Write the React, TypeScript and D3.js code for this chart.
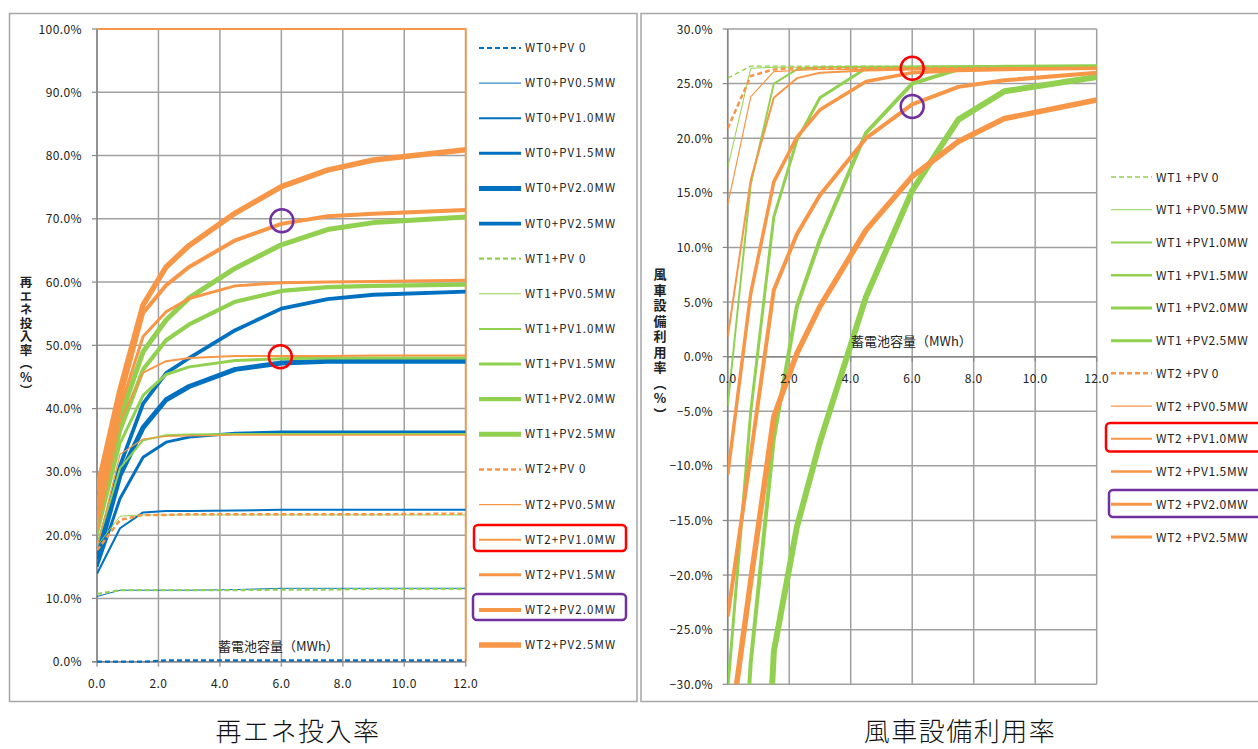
import React from "react";
import * as d3 from "d3";

// ---------- DATA ----------
const batteryMWh = [0, 0.75, 1.5, 2.25, 3, 4.5, 6, 7.5, 9, 12];
const xTicks = [0, 2, 4, 6, 8, 10, 12];

// 再エネ投入率 (%)
const leftNames = [
  "WT0+PV 0", "WT0+PV0.5MW", "WT0+PV1.0MW", "WT0+PV1.5MW", "WT0+PV2.0MW", "WT0+PV2.5MW",
  "WT1+PV 0", "WT1+PV0.5MW", "WT1+PV1.0MW", "WT1+PV1.5MW", "WT1+PV2.0MW", "WT1+PV2.5MW",
  "WT2+PV 0", "WT2+PV0.5MW", "WT2+PV1.0MW", "WT2+PV1.5MW", "WT2+PV2.0MW", "WT2+PV2.5MW",
];
const wt0pv0 = [0, 0, 0, 0.2, 0.2, 0.2, 0.2, 0.2, 0.2, 0.2];
const wt0pv05 = [10.3, 11.3, 11.3, 11.3, 11.3, 11.4, 11.6, 11.6, 11.6, 11.6];
const wt0pv10 = [13.9, 21.1, 23.6, 23.8, 23.8, 23.9, 24.0, 24.0, 24.0, 24.0];
const wt0pv15 = [15.0, 25.8, 32.3, 34.7, 35.5, 36.1, 36.3, 36.3, 36.3, 36.3];
const wt0pv20 = [16.2, 29.5, 37.0, 41.4, 43.5, 46.2, 47.2, 47.5, 47.5, 47.5];
const wt0pv25 = [17.5, 31.0, 40.8, 45.6, 48.0, 52.4, 55.8, 57.3, 58.0, 58.5];
const wt1pv0 = [10.7, 11.3, 11.3, 11.3, 11.3, 11.3, 11.4, 11.4, 11.5, 11.5];
const wt1pv05 = [18.3, 23.0, 23.2, 23.2, 23.2, 23.2, 23.2, 23.2, 23.2, 23.2];
const wt1pv10 = [18.5, 30.6, 35.0, 35.8, 35.9, 36.0, 36.0, 36.0, 36.0, 36.0];
const wt1pv15 = [20.0, 34.5, 42.1, 45.4, 46.6, 47.6, 47.9, 48.0, 48.0, 48.0];
const wt1pv20 = [21.0, 36.5, 46.2, 50.8, 53.3, 56.9, 58.6, 59.2, 59.4, 59.6];
const wt1pv25 = [22.0, 38.5, 49.0, 54.0, 57.5, 62.2, 65.9, 68.3, 69.4, 70.3];
const wt2pv0 = [17.6, 22.4, 23.2, 23.2, 23.3, 23.3, 23.3, 23.3, 23.3, 23.4];
const wt2pv05 = [18.0, 32.8, 35.2, 35.6, 35.7, 35.8, 35.8, 35.8, 35.8, 35.8];
const wt2pv10 = [20.5, 38.0, 45.7, 47.5, 48.0, 48.3, 48.3, 48.3, 48.4, 48.4];
const wt2pv15 = [22.5, 40.0, 51.4, 55.3, 57.4, 59.4, 59.9, 60.0, 60.1, 60.3];
const wt2pv20 = [24.5, 41.5, 55.1, 59.5, 62.4, 66.6, 69.2, 70.4, 70.8, 71.4];
const wt2pv25 = [27.0, 43.0, 56.4, 62.4, 65.8, 70.9, 75.1, 77.7, 79.3, 80.9];
const leftValues = [
  wt0pv0, wt0pv05, wt0pv10, wt0pv15, wt0pv20, wt0pv25,
  wt1pv0, wt1pv05, wt1pv10, wt1pv15, wt1pv20, wt1pv25,
  wt2pv0, wt2pv05, wt2pv10, wt2pv15, wt2pv20, wt2pv25,
];
const leftYTicks = [0, 10, 20, 30, 40, 50, 60, 70, 80, 90, 100];

// 風車設備利用率 (%)
const rightNames = [
  "WT1 +PV 0", "WT1 +PV0.5MW", "WT1 +PV1.0MW", "WT1 +PV1.5MW", "WT1 +PV2.0MW", "WT1 +PV2.5MW",
  "WT2 +PV 0", "WT2 +PV0.5MW", "WT2 +PV1.0MW", "WT2 +PV1.5MW", "WT2 +PV2.0MW", "WT2 +PV2.5MW",
];
const uWt1pv0 = [25.5, 26.6, 26.6, 26.6, 26.6, 26.6, 26.6, 26.6, 26.6, 26.6];
const uWt1pv05 = [17.3, 26.4, 26.5, 26.5, 26.5, 26.6, 26.6, 26.6, 26.6, 26.6];
const uWt1pv10 = [-4.5, 15.8, 25.0, 26.3, 26.5, 26.5, 26.5, 26.6, 26.6, 26.6];
const uWt1pv15 = [-30.5, -5.0, 12.8, 19.8, 23.7, 26.4, 26.5, 26.5, 26.6, 26.6];
const uWt1pv20 = [-110, -70, -27, -15.6, -7.8, 5.5, 15.2, 21.7, 24.3, 25.6];
const uWt1pv25 = [-60, -28, -7.5, 4.6, 10.7, 20.5, 25.0, 26.3, 26.5, 26.6];
const uWt2pv0 = [20.9, 25.7, 26.3, 26.4, 26.4, 26.4, 26.4, 26.4, 26.4, 26.4];
const uWt2pv05 = [13.9, 23.8, 26.1, 26.2, 26.3, 26.3, 26.4, 26.4, 26.4, 26.4];
const uWt2pv10 = [1.8, 16.2, 23.7, 25.5, 26.0, 26.2, 26.3, 26.3, 26.4, 26.4];
const uWt2pv15 = [-10.8, 5.8, 16.0, 20.1, 22.6, 25.2, 26.0, 26.2, 26.3, 26.4];
const uWt2pv20 = [-23.8, -9.0, 6.1, 11.2, 14.8, 20.0, 23.1, 24.7, 25.3, 26.0];
const uWt2pv25 = [-36, -20.5, -5.5, 0.3, 4.6, 11.6, 16.5, 19.7, 21.8, 23.5];
const rightValues = [
  uWt1pv0, uWt1pv05, uWt1pv10, uWt1pv15, uWt1pv20, uWt1pv25,
  uWt2pv0, uWt2pv05, uWt2pv10, uWt2pv15, uWt2pv20, uWt2pv25,
];
const rightYTicks = [-30, -25, -20, -15, -10, -5, 0, 5, 10, 15, 20, 25, 30];

// ---------- STYLES ----------
const BLUE = "#0070C0";
const GREEN = "#92D050";
const ORANGE = "#F79646";
const GRID = "#a0a0a0";
const AXIS = "#868686";
const FONT = "'Noto Sans CJK JP', 'Noto Sans', sans-serif";
const leftWidths = [
  2.2, 1, 2, 3, 5, 3.8,
  2.2, 1, 2, 3, 4.2, 5,
  2.5, 1.2, 2, 3, 4, 5.5,
];
const rightWidths = [
  1.3, 1, 2, 3, 6, 4,
  2.5, 1.2, 2, 3.5, 4, 5.5,
];
const groupColor = (i: number, offset: number) => {
  const g = Math.floor(i / 6) + offset;
  return g === 0 ? BLUE : g === 1 ? GREEN : ORANGE;
};

export default function App() {
  // Left chart scales
  const xL = d3.scaleLinear().domain([0, 12]).range([97, 465.7]);
  const yL = d3.scaleLinear().domain([0, 100]).range([661.7, 29]);
  // Right chart scales
  const xR = d3.scaleLinear().domain([0, 12]).range([727.7, 1096.7]);
  const yR = d3.scaleLinear().domain([-30, 30]).range([684.3, 29]);

  const lineL = d3
    .line<number>()
    .x((_, i) => xL(batteryMWh[i]))
    .y((d) => yL(d));
  const lineR = d3
    .line<number>()
    .x((_, i) => xR(batteryMWh[i]))
    .y((d) => yR(d));

  const legendLeftY = d3.scalePoint<number>().domain(d3.range(18)).range([48, 645]);
  const legendRightY = d3.scalePoint<number>().domain(d3.range(12)).range([177, 537]);

  const fmt = d3.format(".1f");
  const vertical = { writingMode: "vertical-rl", textOrientation: "upright" } as any;

  return (
    <svg
      width={1258}
      height={749}
      style={{ position: "absolute", left: 0, top: 0, background: "#fff" }}
      fontFamily={FONT}
    >
      <defs>
        <clipPath id="clipL">
          <rect x={xL(0)} y={yL(100) - 2} width={xL(12) - xL(0)} height={yL(0) - yL(100) + 4} />
        </clipPath>
        <clipPath id="clipR">
          <rect x={xR(0)} y={yR(30)} width={xR(12) - xR(0)} height={yR(-30) - yR(30)} />
        </clipPath>
      </defs>

      {/* ===== LEFT CHART ===== */}
      <rect x={9.5} y={13.5} width={627.5} height={688} fill="#fff" stroke="#a6a6a6" strokeWidth={1.5} />
      {leftYTicks.map((t) => (
        <line key={"lg" + t} x1={xL(0)} x2={xL(12)} y1={yL(t)} y2={yL(t)} stroke={GRID} strokeWidth={1.5} />
      ))}
      {xTicks.map((t) => (
        <line key={"lv" + t} x1={xL(t)} x2={xL(t)} y1={yL(100)} y2={yL(0) + 5} stroke={GRID} strokeWidth={1.5} />
      ))}
      <line x1={xL(0)} x2={xL(0)} y1={yL(100)} y2={yL(0)} stroke={AXIS} strokeWidth={1.5} />
      <line x1={xL(0) - 5} x2={xL(12)} y1={yL(0)} y2={yL(0)} stroke={AXIS} strokeWidth={1.5} />
      {leftYTicks.map((t) => (
        <line key={"lt" + t} x1={xL(0) - 5} x2={xL(0)} y1={yL(t)} y2={yL(t)} stroke={AXIS} strokeWidth={1.2} />
      ))}
      {/* orange plot-area border (top and right) */}
      <polyline
        points={`${xL(0)},${yL(100)} ${xL(12)},${yL(100)} ${xL(12)},${yL(0)}`}
        fill="none"
        stroke={ORANGE}
        strokeWidth={1.8}
      />
      {leftYTicks.map((t) => (
        <text key={"ll" + t} x={82} y={yL(t) + 4.5} textAnchor="end" fontSize={12} fill="#222" letterSpacing={0.4}>
          {fmt(t) + "%"}
        </text>
      ))}
      {xTicks.map((t) => (
        <text key={"lx" + t} x={xL(t)} y={688} textAnchor="middle" fontSize={12} fill="#222" letterSpacing={0.4}>
          {fmt(t)}
        </text>
      ))}
      <text x={218} y={651} fontSize={13} fill="#222">
        蓄電池容量（MWh）
      </text>
      <text x={26} y={276} fontSize={12.5} fill="#222" fontWeight={700} style={vertical} letterSpacing={1}>
        再エネ投入率（%）
      </text>

      <g clipPath="url(#clipL)">
        {leftValues.map((vals, i) => (
          <path
            key={"lp" + i}
            d={lineL(vals) || ""}
            fill="none"
            stroke={groupColor(i, 0)}
            strokeWidth={leftWidths[i]}
            strokeDasharray={i % 6 === 0 ? "5,3" : undefined}
            strokeLinejoin="round"
          />
        ))}
      </g>

      {/* left legend */}
      {leftNames.map((n, i) => {
        const y = legendLeftY(i) as number;
        return (
          <g key={"lleg" + i}>
            <line
              x1={479}
              x2={521}
              y1={y}
              y2={y}
              stroke={groupColor(i, 0)}
              strokeWidth={leftWidths[i]}
              strokeDasharray={i % 6 === 0 ? "5,3" : undefined}
            />
            <text x={525} y={y + 4} fontSize={11.5} fill="#222" letterSpacing={1.1}>
              {n}
            </text>
          </g>
        );
      })}
      <rect x={474} y={525} width={152} height={26} rx={4} fill="none" stroke="#ff0000" strokeWidth={2.5} />
      <rect x={473} y={594} width={153} height={26} rx={4} fill="none" stroke="#7030a0" strokeWidth={2.5} />
      <circle cx={xL(6) - 1} cy={yL(48.2)} r={11.5} fill="none" stroke="#ff0000" strokeWidth={2.5} />
      <circle cx={xL(6) + 0.5} cy={yL(69.7)} r={11.5} fill="none" stroke="#7030a0" strokeWidth={2.5} />

      {/* ===== RIGHT CHART ===== */}
      <rect x={641} y={13.5} width={620} height={688} fill="#fff" stroke="#a6a6a6" strokeWidth={1.5} />
      {rightYTicks.map((t) => (
        <line key={"rg" + t} x1={xR(0)} x2={xR(12)} y1={yR(t)} y2={yR(t)} stroke={GRID} strokeWidth={1.5} />
      ))}
      {xTicks.map((t) => (
        <line key={"rv" + t} x1={xR(t)} x2={xR(t)} y1={yR(30)} y2={yR(-30)} stroke={GRID} strokeWidth={1.5} />
      ))}
      <line x1={xR(0)} x2={xR(0)} y1={yR(30)} y2={yR(-30)} stroke={AXIS} strokeWidth={1.5} />
      <line x1={xR(0)} x2={xR(12)} y1={yR(0)} y2={yR(0)} stroke={AXIS} strokeWidth={1.5} />
      {rightYTicks.map((t) => (
        <line key={"rt" + t} x1={xR(0) - 5} x2={xR(0)} y1={yR(t)} y2={yR(t)} stroke={AXIS} strokeWidth={1.2} />
      ))}
      {xTicks.map((t) => (
        <line key={"rxt" + t} x1={xR(t)} x2={xR(t)} y1={yR(0)} y2={yR(0) + 5} stroke={AXIS} strokeWidth={1.2} />
      ))}
      {rightYTicks.map((t) => (
        <text key={"rl" + t} x={713} y={yR(t) + 4.5} textAnchor="end" fontSize={12} fill="#222" letterSpacing={0.4}>
          {fmt(t) + "%"}
        </text>
      ))}
      <text x={660} y={268} fontSize={13} fill="#222" fontWeight={700} style={vertical} letterSpacing={2.5}>
        風車設備利用率（%）
      </text>

      <g clipPath="url(#clipR)">
        {rightValues.map((vals, i) => (
          <path
            key={"rp" + i}
            d={lineR(vals) || ""}
            fill="none"
            stroke={groupColor(i, 1)}
            strokeWidth={rightWidths[i]}
            strokeDasharray={i % 6 === 0 ? "5,3" : undefined}
            strokeLinejoin="round"
          />
        ))}
      </g>
      {xTicks.map((t) => (
        <text key={"rx" + t} x={xR(t)} y={383} textAnchor="middle" fontSize={12} fill="#222" letterSpacing={0.4}>
          {fmt(t)}
        </text>
      ))}
      <text x={851} y={346} fontSize={13} fill="#222">
        蓄電池容量（MWh）
      </text>

      {/* right legend */}
      {rightNames.map((n, i) => {
        const y = legendRightY(i) as number;
        return (
          <g key={"rleg" + i}>
            <line
              x1={1111}
              x2={1152}
              y1={y}
              y2={y}
              stroke={groupColor(i, 1)}
              strokeWidth={rightWidths[i] > 3.5 ? 3 : Math.min(rightWidths[i], 2.5)}
              strokeDasharray={i % 6 === 0 ? "5,3" : undefined}
            />
            <text x={1156} y={y + 4.5} fontSize={12} fill="#222" letterSpacing={0.6}>
              {n}
            </text>
          </g>
        );
      })}
      <rect x={1106} y={423} width={160} height={28.5} rx={4} fill="none" stroke="#ff0000" strokeWidth={2.5} />
      <rect x={1109} y={490} width={160} height={27} rx={4} fill="none" stroke="#7030a0" strokeWidth={2.5} />
      <circle cx={xR(6)} cy={yR(26.4)} r={11.5} fill="none" stroke="#ff0000" strokeWidth={2.5} />
      <circle cx={xR(6)} cy={yR(22.9)} r={11.5} fill="none" stroke="#7030a0" strokeWidth={2.5} />

      {/* captions */}
      <text x={298} y={741} textAnchor="middle" fontSize={26} fill="#111" fontWeight={300} letterSpacing={1.5}>
        再エネ投入率
      </text>
      <text x={960} y={741} textAnchor="middle" fontSize={26} fill="#111" fontWeight={300} letterSpacing={1.5}>
        風車設備利用率
      </text>
    </svg>
  );
}
